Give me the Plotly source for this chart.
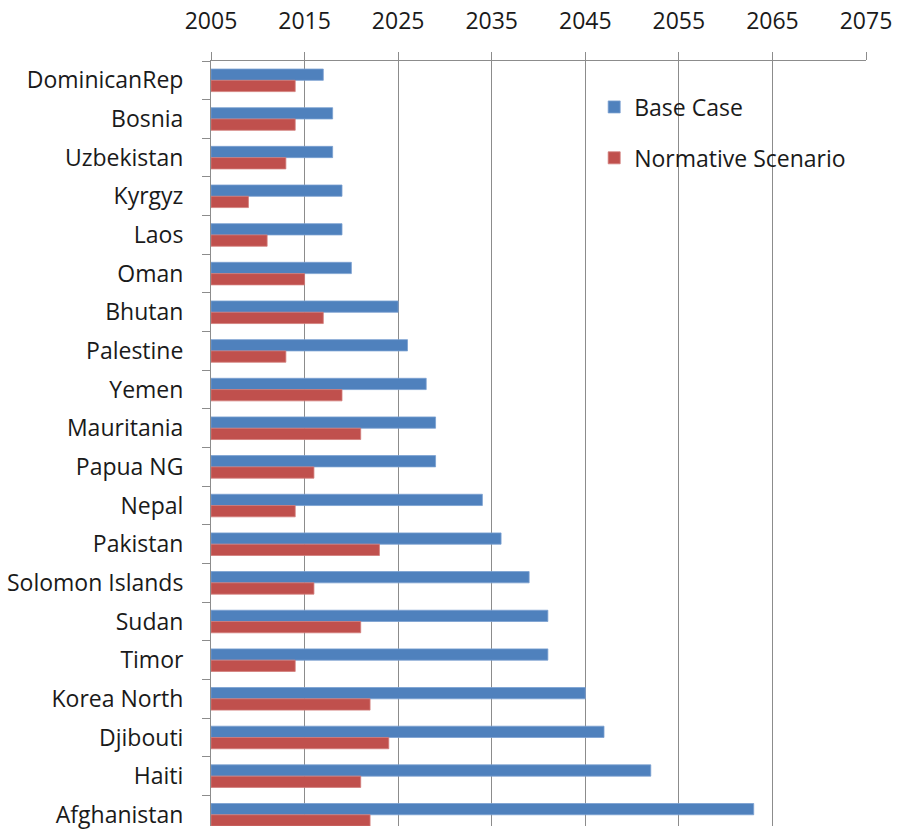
import plotly.graph_objects as go

# Countries, listed top to bottom
countries = [
    "DominicanRep", "Bosnia", "Uzbekistan", "Kyrgyz", "Laos", "Oman",
    "Bhutan", "Palestine", "Yemen", "Mauritania", "Papua NG", "Nepal",
    "Pakistan", "Solomon Islands", "Sudan", "Timor", "Korea North",
    "Djibouti", "Haiti", "Afghanistan",
]

# Year reached under each scenario
base_case = [2017, 2018, 2018, 2019, 2019, 2020, 2025, 2026, 2028, 2029,
             2029, 2034, 2036, 2039, 2041, 2041, 2045, 2047, 2052, 2063]
normative = [2014, 2014, 2013, 2009, 2011, 2015, 2017, 2013, 2019, 2021,
             2016, 2014, 2023, 2016, 2021, 2014, 2022, 2024, 2021, 2022]

start_year = 2005
year_ticks = [2005, 2015, 2025, 2035, 2045, 2055, 2065, 2075]

FONT = "Open Sans"
GRID = "#8c8c8c"
TEXT = "#1a1a1a"

fig = go.Figure()
fig.add_trace(go.Bar(
    y=countries, x=[v - start_year for v in base_case], base=start_year,
    orientation="h", name="Base Case", legendgroup="a",
    marker=dict(color="#4F81BD", line=dict(color="#7a9fd0", width=0.8)),
))
fig.add_trace(go.Bar(
    y=countries, x=[v - start_year for v in normative], base=start_year,
    orientation="h", name="Normative Scenario", legendgroup="b",
    marker=dict(color="#C0504D", line=dict(color="#d27c7a", width=0.8)),
))

fig.update_layout(
    width=899, height=830,
    margin=dict(l=211, r=33, t=61, b=0),
    paper_bgcolor="white", plot_bgcolor="white",
    barmode="group", bargap=0.416, bargroupgap=0,
    font=dict(family=FONT, size=23, color=TEXT),
    legend=dict(
        x=0.585, y=0.968, xanchor="left", yanchor="top",
        bgcolor="rgba(0,0,0,0)", traceorder="grouped", tracegroupgap=18,
        font=dict(family=FONT, size=23, color=TEXT),
        itemwidth=30,
    ),
    showlegend=True,
)

fig.update_xaxes(
    side="top", range=[2005, 2075], tickvals=year_ticks,
    ticktext=[str(t) for t in year_ticks],
    showgrid=True, gridcolor=GRID, gridwidth=1,
    showline=True, linecolor=GRID, linewidth=1,
    ticks="outside", ticklen=8, tickcolor=GRID,
    ticklabelstandoff=14,
    zeroline=False, fixedrange=True,
)
fig.update_yaxes(
    type="category", categoryorder="array", categoryarray=countries,
    range=[19.29, -0.5],
    showline=True, linecolor=GRID, linewidth=1,
    ticks="outside", ticklen=8, tickcolor=GRID, tickson="boundaries",
    ticklabelstandoff=22, showgrid=False, fixedrange=True,
)

fig.write_html("out.html")
